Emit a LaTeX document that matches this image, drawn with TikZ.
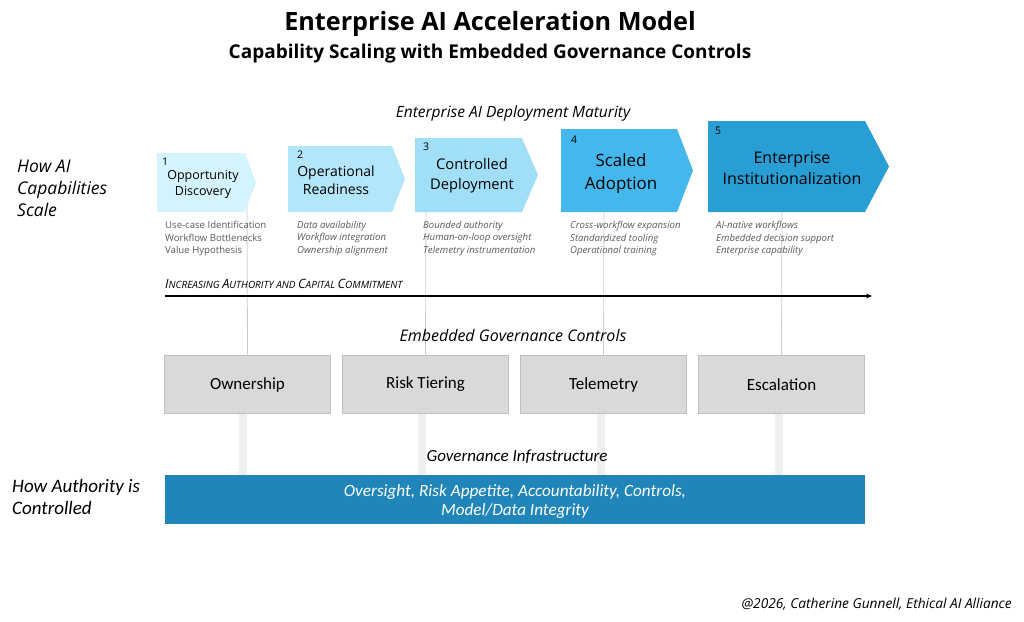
\documentclass[tikz,border=0pt]{standalone}
\usepackage{fontspec}
\setmainfont{Open Sans}
\newfontfamily\narrowfont{Carlito}
\usetikzlibrary{arrows.meta}
\definecolor{cA}{HTML}{D5F3FD}
\definecolor{cB}{HTML}{B3E6FA}
\definecolor{cC}{HTML}{A1DEF8}
\definecolor{cD}{HTML}{44B7EC}
\definecolor{cE}{HTML}{289ED5}
\definecolor{boxfill}{HTML}{D9D9D9}
\definecolor{boxline}{HTML}{BFBFBF}
\definecolor{govblue}{HTML}{2085B8}
\definecolor{desc}{HTML}{595959}
\definecolor{vline}{HTML}{CCCCCC}
\definecolor{vbar}{HTML}{EFEFEF}
\newcommand\fs[2]{\fontsize{#1}{#2}\selectfont}
\newcommand\smc[1]{{\fs{12.8}{14}#1}}
\newcommand\smr[1]{{\fs{10}{12}#1}}
\begin{document}
\begin{tikzpicture}[x=1pt,y=-1pt,
  govbox/.style={draw=boxline,fill=boxfill,line width=1pt,minimum width=166pt,minimum height=58pt,anchor=north west,inner sep=0pt,font=\narrowfont\fs{17}{19}},
  desctext/.style={anchor=north west,align=left,inner sep=0pt,text=desc,font=\fs{9.6}{12.5}},
  chevnum/.style={anchor=north west,inner sep=0pt,font=\fs{10.5}{12}},
  chevlab/.style={align=center,inner sep=0pt},
  sidelabel/.style={anchor=north west,align=left,inner sep=0pt,font=\itshape\fs{17.5}{22}},
  connector/.style={draw=vline,line width=0.8pt},
  stem/.style={draw=vbar,line width=8pt}
]
\useasboundingbox (0,0) rectangle (1024,621);

% titles
\node[font=\bfseries\fs{25.2}{29}] (title) at (490,24) {Enterprise AI Acceleration Model};
\node[font=\bfseries\fs{19}{22}] (subtitle) at (490,54) {Capability Scaling with Embedded Governance Controls};

\node[font=\itshape\fs{15.5}{18}] (maturity) at (513,113) {Enterprise AI Deployment Maturity};

% connector anchor coordinates
\coordinate (t1) at (247,200);
\coordinate (t2) at (426,200);
\coordinate (t3) at (604,200);
\coordinate (t4) at (782,200);

% governance boxes
\node[govbox] (own) at (164,355) {Ownership};
\node[govbox] (risk) at (342,355) {Risk Tiering};
\node[govbox] (tele) at (520,355) {Telemetry};
\node[govbox] (esc) at (698,355) {Escalation};

\draw[connector] (t1) -- (own.north);
\draw[connector] (t2) -- (risk.north);
\draw[connector] (t3) -- (tele.north);
\draw[connector] (t4) -- (esc.north);

% chevrons
\fill[cA] (157,153) -- (245,153) -- (256,182.5) -- (245,212) -- (157,212) -- cycle;
\fill[cB] (288,146) -- (392,146) -- (405,179) -- (392,212) -- (288,212) -- cycle;
\fill[cC] (415,138) -- (522,138) -- (538,175) -- (522,212) -- (415,212) -- cycle;
\fill[cD] (561,129) -- (677,129) -- (693,170.5) -- (677,212) -- (561,212) -- cycle;
\fill[cE] (708,121) -- (865,121) -- (889,166.5) -- (865,212) -- (708,212) -- cycle;

\node[chevnum] (n1) at (162,158) {1};
\node[chevnum] (n2) at (297,151) {2};
\node[chevnum] (n3) at (423,143) {3};
\node[chevnum] (n4) at (571,136) {4};
\node[chevnum] (n5) at (715,127) {5};

\node[chevlab,font=\fs{12.5}{16}] (l1) at (203,184) {Opportunity\\Discovery};
\node[chevlab,font=\fs{14}{17.5}] (l2) at (336,180) {Operational\\Readiness};
\node[chevlab,font=\fs{14.7}{20}] (l3) at (472,176) {Controlled\\Deployment};
\node[chevlab,font=\fs{16.9}{23}] (l4) at (621,174) {Scaled\\Adoption};
\node[chevlab,font=\fs{16}{21}] (l5) at (792,168) {Enterprise\\Institutionalization};

% descriptions
\node[desctext] (d1) at (165,221) {Use-case Identification\\Workflow Bottlenecks\\Value Hypothesis};
\node[desctext,font=\itshape\fs{9.6}{12.5}] (d2) at (297,221) {Data availability\\Workflow integration\\Ownership alignment};
\node[desctext,font=\itshape\fs{9.6}{12.5}] (d3) at (423,221) {Bounded authority\\Human-on-loop oversight\\Telemetry instrumentation};
\node[desctext,font=\itshape\fs{9.6}{12.5}] (d4) at (570,221) {Cross-workflow expansion\\Standardized tooling\\Operational training};
\node[desctext,font=\itshape\fs{9.6}{12.5}] (d5) at (716,221) {AI-native workflows\\Embedded decision support\\Enterprise capability};

% authority arrow
\coordinate (a0) at (165,296);
\coordinate (a1) at (872,296);
\draw[line width=1.4pt,-{Stealth[length=6pt,width=5pt]}] (a0) -- (a1);
\node[anchor=base west,inner sep=0pt,font=\itshape] (alabel) at (165,288.5)
  {\smc{I}\smr{NCREASING} \smc{A}\smr{UTHORITY AND} \smc{C}\smr{APITAL} \smc{C}\smr{OMMITMENT}};

\node[font=\itshape\fs{16}{18}] (embedded) at (513,335) {Embedded Governance Controls};

% governance infrastructure
\node[draw=none,fill=govblue,minimum width=700pt,minimum height=49pt,anchor=north west,inner sep=0pt] (gov) at (165,475) {};
\coordinate (b1) at (243,475);
\coordinate (b2) at (422,475);
\coordinate (b3) at (601,475);
\coordinate (b4) at (779,475);
\draw[stem] (own.south -| b1) -- (b1);
\draw[stem] (risk.south -| b2) -- (b2);
\draw[stem] (tele.south -| b3) -- (b3);
\draw[stem] (esc.south -| b4) -- (b4);
\node[align=center,text=white,font=\narrowfont\itshape\fs{17.2}{19}] (govtext) at (515,501)
  {Oversight, Risk Appetite, Accountability, Controls,\\Model/Data Integrity};
\node[font=\narrowfont\itshape\fs{17}{19}] (infra) at (517,457) {Governance Infrastructure};

% side labels
\node[sidelabel] (howai) at (17,160) {How AI\\Capabilities\\Scale};
\node[sidelabel,font=\narrowfont\itshape\fs{19}{22}] (howauth) at (12,479) {How Authority is\\Controlled};

\node[anchor=east,inner sep=0pt,font=\itshape\fs{13.7}{15}] (copy) at (1012,604) {@2026, Catherine Gunnell, Ethical AI Alliance};
\end{tikzpicture}
\end{document}
